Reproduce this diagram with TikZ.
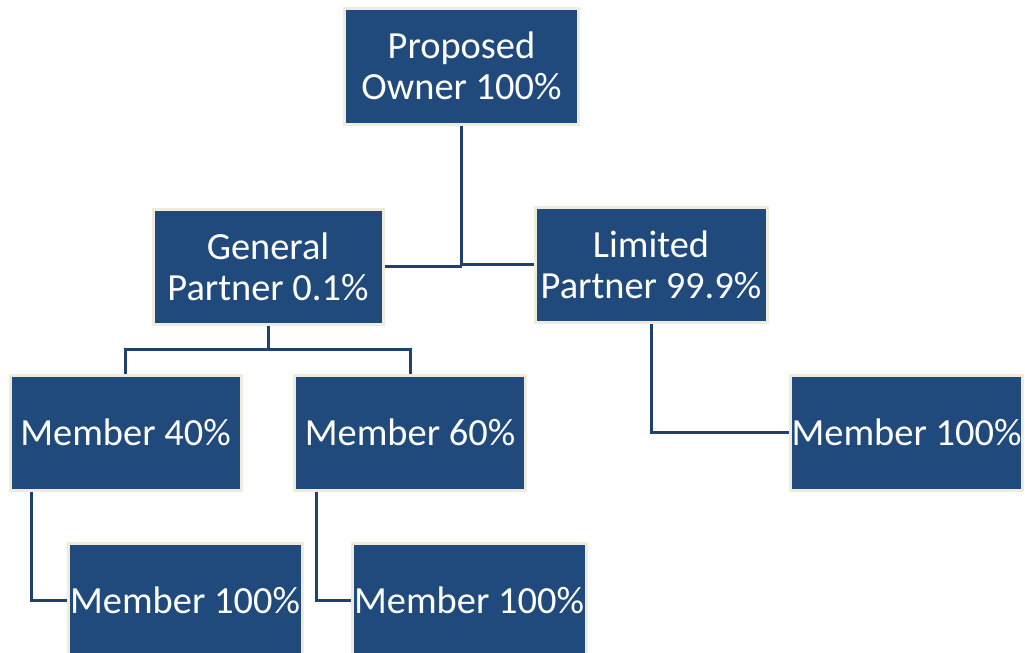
\documentclass[tikz,border=0pt]{standalone}
\usepackage{fontspec}
\setmainfont{Carlito}
\definecolor{boxfill}{HTML}{214A7C}
\definecolor{boxline}{HTML}{EEEBDF}
\definecolor{conn}{HTML}{1F416F}
\begin{document}
\begin{tikzpicture}[x=0.5pt,y=-0.5pt,
  orgbox/.style={rectangle, fill=boxfill, draw=boxline, line width=1.5pt,
    inner sep=0pt, align=center, text=white,
    font=\fontsize{19.2}{20.6}\selectfont},
  link/.style={draw=conn, line width=1.5pt}]
\fill[white] (0,0) rectangle (1025,653);
\useasboundingbox (0,0) rectangle (1025,653);
\clip (0,0) rectangle (1025,653);
\node[orgbox, minimum width=117pt, minimum height=58pt] (owner) at (461.5,66) {Proposed\\Owner 100\%};
\node[orgbox, minimum width=115pt, minimum height=57.5pt] (gp) at (268,266.5) {General\\Partner 0.1\%};
\node[orgbox, minimum width=116pt, minimum height=57.5pt] (lp) at (651,264.5) {Limited\\Partner 99.9\%};
\node[orgbox, minimum width=115.5pt, minimum height=57.5pt] (m40) at (125.5,432.5) {Member 40\%};
\node[orgbox, minimum width=115.5pt, minimum height=57.5pt] (m60) at (410,432.5) {Member 60\%};
\node[orgbox, minimum width=116pt, minimum height=57.5pt] (mr) at (906.5,432.5) {Member 100\%};
\node[orgbox, minimum width=117pt, minimum height=57.5pt] (bl) at (185,600.5) {Member 100\%};
\node[orgbox, minimum width=117pt, minimum height=57.5pt] (bm) at (469,600.5) {Member 100\%};
% owner to partners
\coordinate (oj) at (owner.south |- gp.east);
\draw[link] (owner.south) -- (owner.south |- lp.west);
\draw[link] (gp.east) -- (oj);
\draw[link] (owner.south |- lp.west) -- (lp.west);
% general partner to members
\coordinate (gj) at (268,349);
\draw[link] (gp.south) -- (gj);
\draw[link] (m40.north) |- (gj) -| (m60.north);
% limited partner to member
\draw[link] (lp.south) |- (mr.west);
% members to sub-members
\draw[link] (m40.south west) ++(23,0) coordinate (a1) |- (bl.west);
\draw[link] (m60.south west) ++(23,0) coordinate (a2) |- (bm.west);
\end{tikzpicture}
\end{document}
